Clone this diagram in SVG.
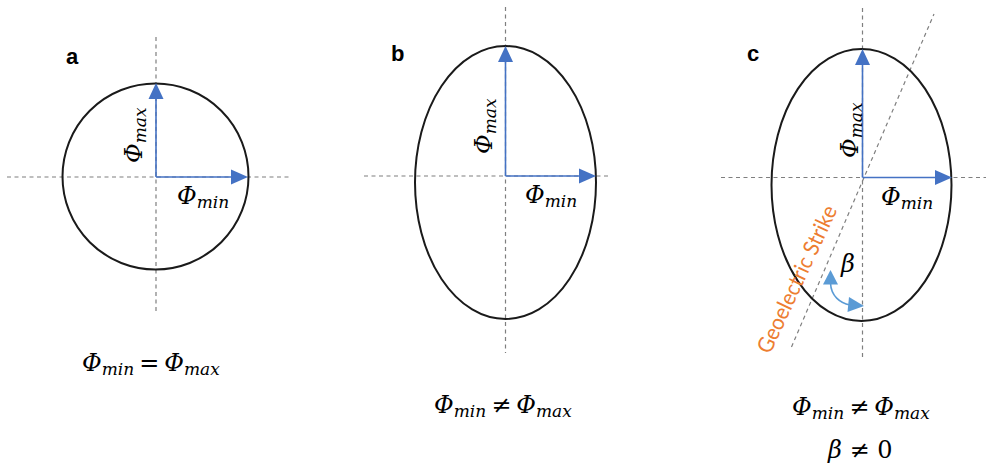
<svg xmlns="http://www.w3.org/2000/svg" width="988" height="465" viewBox="0 0 988 465">
<style>
.axis{stroke:#7f7f7f;stroke-width:1.2;stroke-dasharray:4 3.5;fill:none}
.shape{stroke:#1a1a1a;stroke-width:2;fill:none}
.vec{stroke:#4472c4;stroke-width:1.6;fill:none}
.head{fill:#4472c4}
.m{font-family:"DejaVu Serif","Liberation Serif",serif;font-style:italic;font-size:24px;fill:#000}
.s{font-size:17px}
.up{font-style:normal}
.lbl{font-family:"Liberation Sans",Arial,sans-serif;font-weight:bold;font-size:22px;fill:#000}
.strike{font-family:Lato,"Noto Sans",sans-serif;font-size:22px;fill:#ed7d31}
</style>

<g id="panel-a">
  <g id="axes-a">
    <line class="axis" x1="156" y1="37" x2="156" y2="313"/>
    <line class="axis" x1="7" y1="177" x2="292" y2="177"/>
  </g>
  <circle id="circle-a" class="shape" cx="155.5" cy="176.5" r="93"/>
  <g id="vectors-a">
    <line class="vec" x1="156" y1="177" x2="156" y2="98"/>
    <polygon class="head" points="156,83 148.5,99 163.5,99"/>
    <line class="vec" x1="156" y1="177" x2="233" y2="177"/>
    <polygon class="head" points="248,177 231,169.5 231,184.5"/>
  </g>
  <text class="m" transform="translate(142,163) rotate(-90)">Φ<tspan class="s" dy="4">max</tspan></text>
  <text class="m" x="177" y="204">Φ<tspan class="s" dy="4">min</tspan></text>
  <text class="lbl" x="66" y="64">a</text>
  <text class="m" x="82" y="371">Φ<tspan class="s" dy="4">min</tspan><tspan dx="5" dy="-4">=</tspan><tspan dx="5">Φ</tspan><tspan class="s" dy="4">max</tspan></text>
</g>

<g id="panel-b">
  <g id="axes-b">
    <line class="axis" x1="505.5" y1="7" x2="505.5" y2="353"/>
    <line class="axis" x1="364" y1="176" x2="610" y2="176"/>
  </g>
  <ellipse id="ellipse-b" class="shape" cx="505.5" cy="182.5" rx="90.5" ry="136.5"/>
  <g id="vectors-b">
    <line class="vec" x1="505.5" y1="176" x2="505.5" y2="60"/>
    <polygon class="head" points="505.5,46 498,62 513,62"/>
    <line class="vec" x1="505.5" y1="176" x2="581" y2="176"/>
    <polygon class="head" points="596,176 579,168.5 579,183.5"/>
  </g>
  <text class="m" transform="translate(492,154) rotate(-90)">Φ<tspan class="s" dy="4">max</tspan></text>
  <text class="m" x="525" y="203">Φ<tspan class="s" dy="4">min</tspan></text>
  <text class="lbl" x="391" y="61">b</text>
  <text class="m" x="434" y="413">Φ<tspan class="s" dy="4">min</tspan><tspan dx="5" dy="-4">≠</tspan><tspan dx="5">Φ</tspan><tspan class="s" dy="4">max</tspan></text>
</g>

<g id="panel-c">
  <g id="axes-c">
    <line class="axis" x1="862.5" y1="8" x2="862.5" y2="357"/>
    <line class="axis" x1="721" y1="177.5" x2="986" y2="177.5"/>
    <line class="axis" x1="791.5" y1="347" x2="934" y2="14"/>
  </g>
  <ellipse id="ellipse-c" class="shape" cx="861.5" cy="185" rx="90" ry="136"/>
  <g id="vectors-c">
    <line class="vec" x1="862.5" y1="177.5" x2="862.5" y2="63"/>
    <polygon class="head" points="862.5,49 855,65 870,65"/>
    <line class="vec" x1="862.5" y1="177.5" x2="937" y2="177.5"/>
    <polygon class="head" points="952,177.5 935,170 935,185"/>
  </g>
  <text class="m" transform="translate(858,158) rotate(-90)">Φ<tspan class="s" dy="4">max</tspan></text>
  <text class="m" x="881" y="205">Φ<tspan class="s" dy="4">min</tspan></text>
  <text class="lbl" x="747" y="61">c</text>
  <text class="strike" transform="translate(770,355) rotate(-65)" textLength="160" lengthAdjust="spacingAndGlyphs">Geoelectric Strike</text>
  <g id="beta-arrow">
    <path d="M830.5,283 C831,296 840,303 850,305" stroke="#5b9bd5" stroke-width="1.6" fill="none"/>
    <polygon points="830.5,270 823,284.5 838,284.5" fill="#5b9bd5"/>
    <polygon points="864,306 849,297 847.5,312" fill="#5b9bd5"/>
  </g>
  <text class="m" x="841" y="272">β</text>
  <text class="m" x="792" y="415">Φ<tspan class="s" dy="4">min</tspan><tspan dx="5" dy="-4">≠</tspan><tspan dx="5">Φ</tspan><tspan class="s" dy="4">max</tspan></text>
  <text class="m" x="828" y="458">β ≠ <tspan class="up">0</tspan></text>
</g>
</svg>
